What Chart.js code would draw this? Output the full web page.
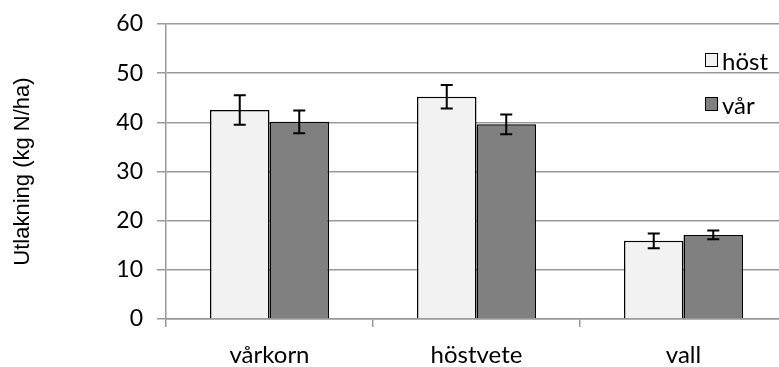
<!DOCTYPE html>
<html>
<head>
<meta charset="utf-8">
<script src="https://cdn.jsdelivr.net/npm/chart.js@4/dist/chart.umd.min.js"></script>
<style>
  html, body { margin: 0; padding: 0; background: #fff; overflow: hidden; }
  #wrap { position: relative; width: 790px; height: 367px; }
  #legend { position: absolute; left: 705px; top: 45px; font-family: Lato, sans-serif; font-size: 24px; color: #000; }
  .item { display: flex; align-items: center; height: 30px; margin-bottom: 14px; }
  .box { width: 11px; height: 12px; border: 1.5px solid #000; margin-right: 4px; }
</style>
</head>
<body>
<div id="wrap">
  <canvas id="c" width="790" height="367"></canvas>
  <div id="legend"></div>
</div>
<script>
const categories = ["vårkorn", "höstvete", "vall"];
const seriesNames = ["höst", "vår"];
const hostValues = [42.5, 45.2, 15.9];
const varValues = [40.1, 39.6, 17.1];
const hostErrors = [3.0, 2.4, 1.5];
const varErrors = [2.3, 2.0, 0.9];
const yTicks = [0, 10, 20, 30, 40, 50, 60];

const colors = ["#f2f2f2", "#808080"];
const errors = [hostErrors, varErrors];

const errorBarPlugin = {
  id: 'errorBars',
  afterDatasetsDraw(chart) {
    const ctx = chart.ctx;
    const yScale = chart.scales.y;
    ctx.save();
    ctx.strokeStyle = '#000';
    ctx.lineWidth = 2;
    chart.data.datasets.forEach((ds, di) => {
      const meta = chart.getDatasetMeta(di);
      meta.data.forEach((bar, i) => {
        const v = ds.data[i];
        const e = errors[di][i];
        const x = bar.x;
        const yTop = yScale.getPixelForValue(v + e);
        const yBot = yScale.getPixelForValue(v - e);
        ctx.beginPath();
        ctx.moveTo(x, yTop); ctx.lineTo(x, yBot);
        ctx.moveTo(x - 6, yTop); ctx.lineTo(x + 6, yTop);
        ctx.moveTo(x - 6, yBot); ctx.lineTo(x + 6, yBot);
        ctx.stroke();
      });
    });
    ctx.restore();
  }
};

new Chart(document.getElementById('c'), {
  type: 'bar',
  data: {
    labels: categories,
    datasets: [
      { label: seriesNames[0], data: hostValues, backgroundColor: colors[0], borderColor: '#000', borderWidth: 1.5 },
      { label: seriesNames[1], data: varValues, backgroundColor: colors[1], borderColor: '#000', borderWidth: 1.5 }
    ]
  },
  options: {
    responsive: false,
    animation: false,
    layout: { padding: { top: 24, right: 3, left: 0, bottom: 0 } },
    plugins: { legend: { display: false }, tooltip: { enabled: false } },
    datasets: { bar: { categoryPercentage: 0.575, barPercentage: 1.0 } },
    scales: {
      x: {
        offset: true,
        grid: { offset: true, drawOnChartArea: false, drawTicks: true, tickLength: 8, color: '#999', lineWidth: 1.5 },
        border: { color: '#999', width: 1.5 },
        ticks: { font: { family: 'Lato', size: 24 }, color: '#000', padding: 14 },
        afterFit(scale) { scale.height = 48; scale.paddingLeft = 0; scale.paddingRight = 0; }
      },
      y: {
        min: 0, max: 60,
        afterBuildTicks(scale) { scale.ticks = yTicks.map(v => ({ value: v })); },
        grid: { color: '#999', lineWidth: 1.5, tickLength: 9 },
        border: { color: '#999', width: 1.5 },
        ticks: { font: { family: 'Lato', size: 23 }, color: '#000', padding: 14 },
        title: { display: true, text: 'Utlakning (kg N/ha)', font: { family: 'Liberation Sans', size: 22 }, color: '#000', padding: { top: 10, bottom: 0 } },
        afterFit(scale) { scale.width = 166; scale.paddingTop = 0; scale.paddingBottom = 0; }
      }
    }
  },
  plugins: [errorBarPlugin]
});

const legend = document.getElementById('legend');
seriesNames.forEach((name, i) => {
  const item = document.createElement('div');
  item.className = 'item';
  const box = document.createElement('span');
  box.className = 'box';
  box.style.background = colors[i];
  const txt = document.createElement('span');
  txt.textContent = name;
  item.appendChild(box); item.appendChild(txt);
  legend.appendChild(item);
});
</script>
</body>
</html>
